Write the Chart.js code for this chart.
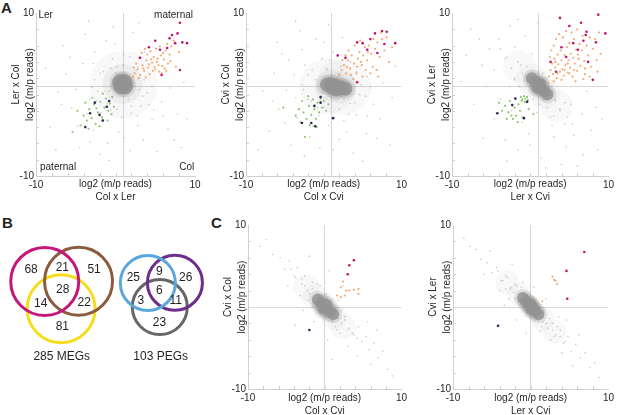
<!DOCTYPE html>
<html>
<head>
<meta charset="utf-8">
<script src="https://cdn.jsdelivr.net/npm/chart.js@4.4.1/dist/chart.umd.min.js"></script>
<style>
html, body { margin: 0; padding: 0; background: #fff; overflow: hidden; width: 617px; height: 415px; }
canvas { position: absolute; }
.tag { position: absolute; font: bold 15px "Liberation Sans", Arial, sans-serif; color: #231f20; line-height: 15px; }
</style>
</head>
<body>
<div class="tag" style="left:1px;top:0px">A</div>
<div class="tag" style="left:2px;top:215px">B</div>
<div class="tag" style="left:211px;top:215px">C</div>
<canvas id="a1" width="205" height="205" style="left:0;top:0"></canvas>
<canvas id="a2" width="205" height="205" style="left:205px;top:0"></canvas>
<canvas id="a3" width="207" height="205" style="left:410px;top:0"></canvas>
<canvas id="venn" width="210" height="210" style="left:0;top:205px"></canvas>
<canvas id="c1" width="205" height="212" style="left:205px;top:205px"></canvas>
<canvas id="c2" width="207" height="212" style="left:410px;top:205px"></canvas>
<script>
// tick labels shown on every axis
const tickLabels = [-10, 10];

// ---- A1: Ler x Col vs Col x Ler ----
const a1Core = [[0.6, 1.5], [1.1, 1.5], [0.7, 1.0], [1.2, 1.0], [0.9, 1.3]];
const a1Halo = [[1.0, 1.2]];
const a1Mid = [[0.9, 1.3]];
const a1Grey = [[-7.5, -6.8], [-6.8, -1.2], [-5.5, -1.7], [-8.2, -4.0], [-4.5, -6.5], [-3.2, -5.8], [-2.0, -7.3], [-0.8, -8.1],
  [1.8, -6.9], [3.5, -5.6], [5.2, -7.0], [6.6, -4.2], [7.8, -2.4], [8.3, -6.5], [4.6, -3.1], [2.8, -3.8], [0.4, -4.6],
  [-1.6, -3.0], [-3.6, -2.4], [-5.0, 0.6], [-6.2, 2.5], [-4.1, 3.8], [-2.6, 5.2], [-1.2, 6.6], [-3.8, 7.4], [-6.6, 6.0],
  [-0.3, 8.3], [2.2, 7.6], [1.0, 4.9], [-1.9, 2.6], [-3.0, 0.9], [4.0, 0.2], [5.8, -0.9], [6.9, 0.8], [8.6, 1.5],
  [3.2, -1.4], [2.0, -2.3], [-0.6, -1.9], [-2.4, -0.8], [0.2, 3.4], [2.6, 3.0], [-4.8, -3.9], [1.1, -5.3], [6.0, -2.6],
  [-7.2, 0.3], [-5.7, 4.6], [0.0, 6.2], [3.7, 5.2], [7.4, -5.6], [-2.8, -4.4], [4.8, -1.9], [-8.8, 3.2], [-1.0, -6.0],
  [9.0, -3.0], [-3.4, 9.0], [2.9, 8.8]];
const a1Near = [[-1.5, 2.8], [-2.2, 0.4], [-1.0, -1.0], [0.2, -1.8], [2.0, -1.4], [3.4, -0.2], [3.6, 1.8], [2.8, 3.4],
  [1.0, 3.6], [-0.6, 3.2], [-2.6, 1.8], [-1.8, -2.2], [0.8, -2.8], [2.8, -2.6], [4.2, -1.2], [4.6, 1.0], [-3.2, -0.6],
  [-0.4, 4.4], [1.8, 4.6], [-2.8, 3.8], [3.0, 0.6], [-0.8, 0.4], [1.6, -0.6], [0.0, 2.6]];
const a1Meg = [[2.4, 2.6], [2.8, 3.1], [3.1, 2.4], [3.4, 3.6], [3.6, 2.9], [3.9, 4.2], [4.1, 3.3], [4.3, 2.5], [4.6, 3.9],
  [4.8, 4.6], [5.0, 3.1], [5.2, 4.0], [5.5, 2.8], [5.7, 4.8], [5.9, 3.5], [6.1, 4.3], [6.3, 5.4], [6.6, 3.8], [6.8, 4.9],
  [7.0, 5.9], [2.6, 3.8], [3.0, 4.5], [3.3, 5.1], [3.7, 5.6], [4.0, 4.9], [4.4, 5.3], [4.7, 2.9], [5.1, 5.6], [5.4, 3.6],
  [5.8, 2.6], [6.0, 5.1], [6.4, 2.9], [2.2, 2.2], [2.9, 2.0], [3.5, 3.2], [4.2, 3.7], [4.9, 3.4], [5.3, 4.4], [6.2, 3.2],
  [6.9, 4.1], [7.3, 6.6], [7.6, 3.4], [3.8, 2.1], [4.5, 4.3], [5.6, 5.9], [6.5, 6.2], [8.0, 5.2], [2.3, 3.3]];
const a1MegStrong = [[8.1, 8.8], [7.1, 7.3], [7.5, 6.3], [8.4, 6.4], [9.0, 6.3], [5.6, 5.5], [6.5, 5.7], [8.1, 3.0],
  [5.8, 2.4], [3.1, 4.5], [6.8, 6.9], [7.8, 7.5], [4.2, 5.8], [5.0, 6.6]];
const a1Peg = [[-4.4, -3.8], [-4.0, -2.6], [-3.6, -3.2], [-3.3, -1.8], [-3.0, -2.9], [-2.7, -1.2], [-2.5, -3.6], [-2.2, -2.2],
  [-1.9, -0.9], [-1.7, -2.8], [-1.4, -1.6], [-1.2, -0.5], [-0.9, -2.0], [-0.7, -1.1], [-0.4, -0.3], [-3.8, -1.0],
  [-2.9, -0.4], [-2.0, -3.9], [-1.0, -3.2], [-0.5, -2.4], [-4.8, -2.0], [-3.4, -4.2], [-1.6, 0.1], [-2.4, -1.7],
  [-0.2, -1.5], [-5.4, -4.6]];
const a1PegStrong = [[-3.2, -2.3], [-3.8, -4.0], [-2.0, -2.5], [-1.1, -1.5], [-1.6, -3.2], [-2.6, -1.0], [-0.8, -0.8]];

// ---- A2: Cvi x Col vs Col x Cvi ----
const a2Core = [[0.4, 1.2], [0.9, 1.3], [1.4, 1.1], [1.9, 1.0], [2.4, 0.8], [2.8, 0.7], [1.6, 0.6], [1.1, 0.8]];
const a2Halo = [[0.5, 1.0], [2.5, 0.9]];
const a2Mid = [[1.0, 1.1], [2.2, 0.9]];
const a2Grey = [[-7.0, -4.5], [-5.8, -1.8], [-4.2, -6.2], [-2.5, -7.5], [-0.5, -6.6], [2.0, -5.5], [3.8, -7.2], [5.5, -4.8],
  [7.2, -3.0], [8.5, -6.2], [6.4, -1.2], [4.2, -2.5], [2.6, -3.2], [0.6, -3.8], [-1.4, -3.9], [-3.4, -2.9], [-4.8, 0.5],
  [-6.4, 2.6], [-4.5, 4.2], [-2.8, 5.5], [-1.0, 6.8], [-3.0, 7.8], [-6.0, 6.4], [0.6, 8.6], [2.4, 7.0], [1.2, 5.2],
  [-1.5, 3.0], [-2.8, 1.2], [4.6, 0.0], [6.0, 0.8], [7.6, 1.4], [8.8, -0.4], [3.4, -1.1], [-0.8, -1.6], [-2.0, -0.6],
  [0.4, 3.2], [-5.0, -3.5], [1.2, -6.8], [6.8, -5.4], [-7.8, 0.4], [-5.4, 5.0], [0.0, 6.4], [-3.6, 9.0], [-8.4, -6.8],
  [5.0, -8.2], [9.2, 3.5], [-1.8, -5.2], [3.0, -4.6], [-6.6, -0.8], [-3.8, 2.4], [-0.2, 4.4], [5.6, -2.6]];
const a2Near = [[-2.0, 2.4], [-2.6, 0.6], [-1.6, -0.8], [0.0, -1.6], [2.0, -1.8], [4.0, -1.0], [4.8, 1.2], [4.2, 2.8],
  [2.2, 3.4], [0.4, 3.0], [-1.0, 1.8], [-3.6, -0.4], [-0.6, -2.6], [1.4, -2.8], [3.2, -2.4], [5.4, -0.2], [5.6, 2.2],
  [-2.4, 3.6], [0.8, 4.2], [3.4, 4.0], [-0.2, 0.2], [3.6, 0.4], [2.6, -0.6], [1.0, 2.4]];
const a2Meg = [[2.0, 2.4], [2.3, 3.0], [2.6, 3.6], [2.9, 2.6], [3.1, 4.2], [3.4, 3.2], [3.6, 4.8], [3.9, 3.8], [4.2, 2.6],
  [4.4, 4.4], [4.6, 5.2], [4.9, 3.6], [5.1, 4.8], [5.3, 5.8], [5.6, 4.2], [5.8, 6.0], [6.1, 5.0], [6.3, 3.4], [6.6, 5.6],
  [6.9, 6.4], [7.2, 4.6], [7.5, 6.8], [7.8, 5.4], [8.1, 7.0], [2.4, 4.2], [2.8, 4.8], [3.2, 5.4], [3.5, 2.4], [4.0, 6.0],
  [4.7, 6.6], [5.4, 3.0], [6.0, 2.6], [6.8, 3.0], [7.0, 2.2], [5.0, 2.2], [3.8, 1.9], [2.1, 1.8], [4.3, 3.4], [5.7, 5.2],
  [6.4, 6.8], [7.4, 7.6], [8.4, 4.0], [8.8, 5.8], [3.0, 3.4], [4.8, 4.0]];
const a2MegStrong = [[7.5, 7.8], [6.6, 7.5], [8.1, 7.7], [4.3, 6.4], [5.0, 6.3], [9.2, 6.3], [5.6, 5.5], [6.9, 5.1],
  [2.8, 4.5], [1.8, 4.8], [4.3, 1.5], [6.0, 6.8], [7.8, 6.2]];
const a2Peg = [[-3.0, -3.4], [-2.6, -2.2], [-2.2, -3.0], [-1.9, -1.4], [-1.6, -2.5], [-1.4, -0.6], [-1.2, -1.8], [-1.0, -3.0],
  [-0.8, -1.0], [-0.6, -2.2], [-0.4, -0.5], [-0.2, -1.6], [0.0, -0.8], [0.3, -2.0], [0.6, -1.2], [-2.8, -0.8],
  [-2.0, -0.2], [-3.2, -1.8], [-1.8, -3.8], [-0.9, -4.0], [-5.2, -1.6], [-2.4, -5.2], [-3.6, -2.6]];
const a2PegStrong = [[-0.4, -0.3], [-0.4, -1.0], [-1.6, -3.5], [-1.1, -3.9], [1.2, -2.9], [-2.8, -3.5], [-1.2, -1.4]];

// ---- A3: Cvi x Ler vs Ler x Cvi ----
const a3Core = [[0.2, 2.0], [0.6, 1.6], [1.0, 1.2], [1.4, 0.8], [1.8, 0.4], [2.2, 0.0], [0.9, 0.8], [1.3, 1.3]];
const a3Halo = [[-1.4, 3.4], [0.2, 1.8], [1.8, 0.2], [3.4, -1.4]];
const a3Mid = [[0.6, 1.6], [1.6, 0.6]];
const a3Grey = [[-6.5, 6.8], [-5.2, 5.6], [-4.0, 6.8], [-3.2, 4.4], [-2.0, 5.8], [-4.6, 3.0], [-6.2, 3.6], [-7.6, 8.0],
  [-2.6, 8.4], [-0.6, 7.2], [1.0, 8.8], [-1.2, 3.6], [0.2, 5.0], [-5.6, 1.0], [-7.2, -1.2], [-4.6, -3.0], [-3.2, -5.6],
  [-1.6, -6.8], [-0.2, -4.8], [1.4, -7.8], [3.0, -5.2], [4.4, -3.6], [5.6, -5.0], [6.6, -2.4], [7.8, -4.4], [8.6, -6.8],
  [5.2, -1.2], [3.8, -1.8], [2.6, -2.8], [6.8, -7.4], [4.6, -6.4], [8.4, -1.6], [9.2, -3.0], [7.2, 0.4], [-2.4, -2.0],
  [-3.8, -0.6], [-1.0, -3.4], [0.8, -2.2], [-2.0, 1.8], [-0.6, 2.2], [3.2, -0.6], [-8.2, 4.8], [-6.0, -5.4], [2.0, -9.0],
  [-3.0, -8.2], [4.0, -8.6], [-8.8, 1.6], [0.0, -6.2], [6.0, -8.8], [-1.6, 9.2]];
const a3Near = [[-3.0, 4.6], [-2.4, 3.2], [-1.6, 4.0], [-1.0, 2.6], [-0.4, 3.4], [-2.0, 2.0], [0.0, 1.0], [2.0, 1.6],
  [2.6, 0.4], [3.2, -0.8], [3.8, -2.0], [4.4, -1.0], [4.8, -2.8], [2.2, -1.6], [1.2, -1.2], [3.0, -2.6], [-1.4, 1.0],
  [0.4, -0.6], [1.6, 2.6], [-0.2, 2.0], [5.4, -3.6], [-3.8, 5.6], [2.8, -3.8], [-2.6, 1.0]];
const a3Meg = [[2.4, 2.2], [2.6, 3.0], [2.8, 3.8], [2.9, 2.5], [3.1, 4.4], [3.2, 3.3], [3.4, 2.0], [3.5, 4.9], [3.6, 3.7],
  [3.8, 2.8], [3.9, 5.4], [4.0, 4.2], [4.1, 3.1], [4.3, 2.3], [4.4, 4.8], [4.5, 3.6], [4.7, 5.8], [4.8, 2.7], [4.9, 4.2],
  [5.0, 6.3], [5.1, 3.3], [5.2, 5.0], [5.4, 2.2], [5.5, 4.5], [5.6, 6.8], [5.7, 3.8], [5.9, 5.5], [6.0, 2.9], [6.1, 4.9],
  [6.3, 6.2], [6.4, 3.5], [6.6, 5.4], [6.7, 7.2], [6.9, 4.1], [7.0, 2.5], [7.2, 6.0], [7.4, 4.8], [7.6, 7.0], [7.8, 3.4],
  [8.0, 5.6], [8.3, 6.8], [8.5, 4.2], [8.8, 7.6], [9.0, 5.0], [3.0, 6.0], [3.3, 6.8], [3.7, 7.4], [4.2, 7.0], [4.6, 7.8],
  [5.3, 7.6], [6.0, 8.0], [2.5, 4.6], [2.7, 5.4], [3.0, 1.6], [4.0, 1.8], [5.8, 1.6], [6.8, 1.9], [7.6, 2.2], [8.6, 2.8],
  [2.3, 1.4], [3.5, 2.6], [4.4, 3.0], [5.0, 2.6], [5.6, 3.0], [3.2, 4.0], [4.8, 3.8], [6.2, 4.4], [7.0, 3.2]];
const a3MegStrong = [[3.8, 9.4], [8.7, 9.8], [6.5, 8.8], [7.2, 7.7], [7.1, 7.3], [9.6, 7.5], [4.0, 5.8], [5.5, 6.3],
  [6.1, 5.5], [8.4, 6.4], [2.6, 4.0], [3.3, 2.8], [8.0, 1.8], [7.4, 4.0], [5.0, 8.4], [6.8, 6.6], [4.6, 4.6]];
const a3Peg = [[-1.2, -0.3], [-1.0, -0.6], [-0.8, -0.2], [-0.6, -0.5], [-0.4, -0.3], [-0.3, -0.7], [-1.1, -0.8], [-0.7, -0.9],
  [-3.2, -1.4], [-2.8, -2.2], [-2.6, -0.8], [-2.2, -3.0], [-2.0, -1.6], [-1.8, -2.6], [-1.5, -1.2], [-1.3, -2.0],
  [-3.0, -3.0], [-2.4, -2.6], [-1.0, -2.8], [-0.2, -1.8], [0.4, -2.4], [-3.6, -2.0], [-1.6, -3.4], [-4.0, -1.0]];
const a3PegStrong = [[-4.2, -2.3], [-2.3, -1.3], [-0.4, -0.9], [-0.8, -2.9], [-1.9, -0.5]];

// ---- C1: Cvi x Col vs Col x Cvi ----
const c1Core = [[-0.9, 0.9], [-0.5, 0.5], [-0.1, 0.1], [0.3, -0.3], [0.7, -0.6], [1.1, -0.9], [0.2, 0.3], [-0.2, -0.2]];
const c1Halo = [[-2.4, 2.4], [-1.2, 1.2], [0.0, 0.0], [1.2, -1.2], [2.4, -2.4]];
const c1Mid = [[-0.3, 0.3], [0.6, -0.5]];
const c1Grey = [[-6.8, 6.4], [-5.8, 6.0], [-5.2, 4.6], [-4.6, 5.6], [-4.0, 3.8], [-3.6, 4.8], [-3.0, 2.8], [-2.6, 3.8],
  [-2.2, 2.0], [-1.6, 3.0], [-4.8, 2.6], [-3.2, 1.4], [-1.0, 1.6], [-7.6, 8.2], [-2.0, 6.2], [0.6, 4.4], [2.6, -1.6],
  [3.2, -2.6], [3.8, -3.4], [4.4, -2.4], [4.8, -4.2], [5.4, -3.6], [5.8, -5.2], [6.4, -4.4], [7.0, -6.2], [7.6, -5.4],
  [8.2, -7.6], [2.0, -3.2], [1.4, -2.4], [3.0, -4.8], [4.2, -6.0], [5.6, -1.8], [-1.4, -1.8], [-2.8, -0.4], [0.4, -4.0],
  [1.8, 0.8], [-0.6, 2.6], [6.0, -7.0], [8.8, -8.4], [-8.4, 7.4], [2.4, 2.6], [-3.8, -2.2], [1.0, -6.4], [6.8, -2.8]];
const c1Near = [[-3.8, 3.6], [-3.0, 3.4], [-2.6, 2.6], [-2.0, 1.6], [-1.6, 2.2], [-1.2, 0.8], [-2.2, 0.8], [-0.6, 1.4],
  [0.8, 0.6], [1.4, -0.2], [1.8, -1.4], [2.2, -2.0], [2.6, -1.2], [3.0, -2.8], [3.6, -3.2], [1.0, -1.8], [-0.4, -0.8],
  [0.4, -1.2], [2.2, -0.4], [-1.0, 2.8], [4.2, -3.8], [-4.4, 4.6], [0.2, 1.6], [1.6, -2.8]];
const c1Meg = [[2.8, 2.0], [3.2, 2.0], [3.8, 2.1], [4.4, 2.2], [4.4, 1.6], [2.4, 3.1], [2.6, 1.4], [1.6, 1.4], [2.1, 1.2], [2.1, 2.4]];
const c1MegStrong = [[3.0, 4.0], [3.8, 5.7], [3.2, 5.1]];
const c1Peg = [];
const c1PegStrong = [[-2.0, -2.8]];

// ---- C2: Cvi x Ler vs Ler x Cvi ----
const c2Core = [[-1.0, 1.1], [-0.6, 0.7], [-0.2, 0.3], [0.2, -0.1], [0.6, -0.5], [1.0, -0.9], [0.0, 0.3], [0.1, -0.3]];
const c2Halo = [[-3.0, 3.0], [-1.5, 1.5], [0.0, 0.0], [1.5, -1.5], [3.0, -3.0]];
const c2Mid = [[-0.4, 0.4], [0.6, -0.6]];
const c2Grey = [[-8.6, 8.4], [-7.8, 7.4], [-7.0, 7.0], [-6.4, 5.8], [-5.6, 5.4], [-5.0, 4.2], [-4.4, 4.8], [-3.8, 3.2],
  [-3.2, 3.8], [-2.6, 2.2], [-2.0, 2.8], [-1.6, 1.6], [-4.0, 2.0], [-2.8, 1.0], [-6.0, 4.0], [-1.0, 3.0], [1.6, -1.8],
  [2.2, -2.6], [2.8, -2.0], [3.2, -3.4], [3.8, -2.8], [4.2, -4.4], [4.8, -3.6], [5.2, -5.4], [5.8, -4.6], [6.4, -6.2],
  [7.0, -5.6], [7.6, -7.4], [8.2, -6.8], [8.8, -8.6], [2.6, -4.0], [4.0, -5.6], [5.4, -7.2], [1.2, -3.0], [3.6, -1.2],
  [6.2, -3.4], [-1.8, -1.6], [-3.4, 0.2], [0.4, 2.4], [2.0, 1.0], [-5.2, 6.8], [-2.4, 5.2], [4.6, -1.6], [-0.6, -3.2]];
const c2Near = [[-4.2, 4.4], [-3.6, 3.2], [-3.0, 3.6], [-2.6, 2.4], [-2.2, 1.8], [-1.8, 2.6], [-1.4, 1.2], [-0.8, 1.8],
  [-2.0, 1.0], [1.0, -0.4], [1.6, -1.2], [2.0, -2.0], [2.4, -1.4], [2.8, -2.8], [3.4, -2.4], [3.8, -3.6], [4.4, -4.2],
  [0.6, -1.6], [-0.4, -0.8], [1.4, -2.4], [-1.2, 2.4], [0.4, 1.0], [3.0, -3.6], [-3.2, 2.2]];
const c2Meg = [[2.8, 3.7], [3.2, 3.2], [3.4, 2.8], [3.0, 3.3], [1.5, 0.7]];
const c2MegStrong = [[4.7, 1.0], [6.9, 6.7], [4.6, 4.4]];
const c2Peg = [];
const c2PegStrong = [[-4.2, -2.3]];

// ---- B: Venn diagrams (diagram units 0..100) ----
const megCounts = [68, 21, 51, 28, 14, 22, 81];
const megCountPos = [[14.8, 31.0], [29.7, 29.9], [44.8, 31.0], [29.9, 40.5], [19.4, 46.8], [40.1, 46.5], [29.7, 58.0]];
const megCircles = [[21.3, 36.4], [37.4, 36.3], [29.1, 49.4]];
const megColors = ['#c5177a', '#8c5b3d', '#f7dc1a'];
const pegCounts = [25, 9, 26, 6, 3, 11, 23];
const pegCountPos = [[63.5, 34.6], [75.9, 31.7], [88.4, 34.6], [75.9, 40.8], [67.1, 45.7], [83.7, 45.7], [75.9, 56.0]];
const pegCircles = [[70.4, 37.1], [83.3, 37.0], [76.1, 48.6]];
const pegColors = ['#5ba6dc', '#6d2d8b', '#676767'];
const vennTotals = ['285 MEGs', '103 PEGs'];
const vennTotalPos = [[29.4, 72.2], [76.5, 72.2]];

const fam = '"Liberation Sans", Arial, sans-serif';
const ink = '#231f20';

// rotated two-line y-axis title
const yTitle = {
  id: 'yTitle',
  afterDraw(chart, args, opts) {
    if (!opts.lines) return;
    const { ctx, chartArea: a } = chart;
    ctx.save();
    ctx.font = '10px ' + fam;
    ctx.fillStyle = ink;
    ctx.textAlign = 'center';
    ctx.textBaseline = 'middle';
    opts.lines.forEach((t, i) => {
      ctx.save();
      ctx.translate(a.left - 20 + i * 14, (a.top + a.bottom) / 2 - 10);
      ctx.rotate(-Math.PI / 2);
      ctx.fillText(t, 0, 0);
      ctx.restore();
    });
    ctx.restore();
  }
};

// text placed at data coordinates
const labels = {
  id: 'labels',
  afterDatasetsDraw(chart, args, opts) {
    if (!opts.items) return;
    const { ctx, scales: { x, y } } = chart;
    ctx.save();
    ctx.fillStyle = ink;
    ctx.textBaseline = 'middle';
    ctx.font = (opts.size || 10) + 'px ' + fam;
    opts.items.forEach(it => {
      ctx.textAlign = it.align || 'center';
      ctx.fillText(it.text, x.getPixelForValue(it.x), y.getPixelForValue(it.y));
    });
    ctx.restore();
  }
};

// small inward ticks on left and bottom axes
const innerTicks = {
  id: 'innerTicks',
  afterDraw(chart, args, opts) {
    if (!opts.on) return;
    const { ctx, chartArea: a, scales: { x, y } } = chart;
    ctx.save();
    ctx.strokeStyle = '#d2d2d2';
    ctx.lineWidth = 1;
    ctx.beginPath();
    for (let v = -8; v <= 8; v += 2) {
      const px = Math.round(x.getPixelForValue(v)) + 0.5;
      ctx.moveTo(px, a.bottom); ctx.lineTo(px, a.bottom - 3);
      const py = Math.round(y.getPixelForValue(v)) + 0.5;
      ctx.moveTo(a.left, py); ctx.lineTo(a.left + 3, py);
    }
    ctx.stroke();
    ctx.restore();
  }
};

Chart.register(yTitle, labels, innerTicks);

const pts = arr => arr.map(p => ({ x: p[0], y: p[1] }));

function scatterPlot(id, o) {
  const ds = (data, color, r, order) => ({
    data: pts(data), backgroundColor: color, pointRadius: r, pointHoverRadius: r, borderWidth: 0, order: order
  });
  const axisCommon = {
    type: 'linear', min: -10, max: 10,
    ticks: {
      stepSize: 1, autoSkip: false, maxRotation: 0, color: ink, font: { size: 10, family: fam },
      callback: v => tickLabels.includes(v) ? String(v) : ''
    },
    grid: {
      color: c => (c.tick && c.tick.value === o.cross) ? '#d6d6d6' : 'rgba(0,0,0,0)',
      drawTicks: false, lineWidth: 1
    },
    border: { color: '#d0d0d0', width: 1 }
  };
  return new Chart(document.getElementById(id), {
    type: 'scatter',
    data: {
      datasets: [
        ds(o.halo, 'rgba(150,150,150,0.07)', o.haloR, 9),
        ds(o.mid, 'rgba(150,150,150,0.1)', o.midR, 8),
        ds(o.core, 'rgba(155,155,155,0.25)', o.coreR + 3, 7),
        ds(o.core, 'rgba(146,146,146,0.8)', o.coreR, 6),
        ds(o.grey, 'rgba(165,165,165,0.6)', 0.8, 5),
        ds(o.meg, 'rgba(242,155,90,0.85)', 1.1, 4),
        ds(o.peg, 'rgba(120,190,90,0.85)', 1.1, 4),
        ds(o.megStrong, '#c0166e', 1.3, 3),
        ds(o.pegStrong, '#2d2658', 1.3, 3)
      ]
    },
    options: {
      responsive: false,
      animation: false,
      events: [],
      layout: { autoPadding: false, padding: { top: o.top, right: o.right, left: 0, bottom: 0 } },
      plugins: {
        legend: { display: false },
        tooltip: { enabled: false },
        yTitle: { lines: o.yLines },
        labels: { items: o.labels || [] },
        innerTicks: { on: true }
      },
      scales: {
        x: Object.assign({}, axisCommon, {
          position: 'bottom',
          afterFit: s => { s.height = o.xH; },
          ticks: Object.assign({}, axisCommon.ticks, { padding: 3 }),
          title: {
            display: true, text: ['log2 (m/p reads)', o.xName], color: ink,
            font: { size: 10, family: fam, lineHeight: 1.25 },
            padding: { top: 0, bottom: o.xPad }
          }
        }),
        y: Object.assign({}, axisCommon, {
          position: 'left',
          afterFit: s => { s.width = o.yW; },
          ticks: Object.assign({}, axisCommon.ticks, { padding: 2 })
        })
      }
    }
  });
}

scatterPlot('a1', {
  core: a1Core, halo: a1Halo, mid: a1Mid, grey: a1Grey.concat(a1Near), meg: a1Meg, megStrong: a1MegStrong,
  peg: a1Peg, pegStrong: a1PegStrong,
  coreR: 8, haloR: 34, midR: 20, cross: 1, top: 13, right: 10, yW: 36, xH: 29, xPad: 2,
  xName: 'Col x Ler', yLines: ['Ler x Col', 'log2 (m/p reads)'],
  labels: [
    { text: 'Ler', x: -9.7, y: 9.7, align: 'left' },
    { text: 'maternal', x: 9.75, y: 9.7, align: 'right' },
    { text: 'paternal', x: -9.5, y: -8.9, align: 'left' },
    { text: 'Col', x: 9.9, y: -8.9, align: 'right' }
  ]
});
scatterPlot('a2', {
  core: a2Core, halo: a2Halo, mid: a2Mid, grey: a2Grey.concat(a2Near), meg: a2Meg, megStrong: a2MegStrong,
  peg: a2Peg, pegStrong: a2PegStrong,
  coreR: 7, haloR: 28, midR: 16, cross: 1, top: 13, right: 5, yW: 41, xH: 29, xPad: 2,
  xName: 'Col x Cvi', yLines: ['Cvi x Col', 'log2 (m/p reads)']
});
scatterPlot('a3', {
  core: a3Core, halo: a3Halo, mid: a3Mid, grey: a3Grey.concat(a3Near), meg: a3Meg, megStrong: a3MegStrong,
  peg: a3Peg, pegStrong: a3PegStrong,
  coreR: 6, haloR: 16, midR: 12, cross: 1, top: 13, right: 6, yW: 42, xH: 29, xPad: 2,
  xName: 'Ler x Cvi', yLines: ['Cvi x Ler', 'log2 (m/p reads)']
});
scatterPlot('c1', {
  core: c1Core, halo: c1Halo, mid: c1Mid, grey: c1Grey.concat(c1Near), meg: c1Meg, megStrong: c1MegStrong,
  peg: c1Peg, pegStrong: c1PegStrong,
  coreR: 6, haloR: 13, midR: 11, cross: 0, top: 20, right: 5, yW: 43, xH: 28, xPad: 0,
  xName: 'Col x Cvi', yLines: ['Cvi x Col', 'log2 (m/p reads)']
});
scatterPlot('c2', {
  core: c2Core, halo: c2Halo, mid: c2Mid, grey: c2Grey.concat(c2Near), meg: c2Meg, megStrong: c2MegStrong,
  peg: c2Peg, pegStrong: c2PegStrong,
  coreR: 6, haloR: 12, midR: 10, cross: 0, top: 20, right: 7, yW: 43, xH: 28, xPad: 0,
  xName: 'Ler x Cvi', yLines: ['Cvi x Ler', 'log2 (m/p reads)']
});

// Venn diagrams
const circleSets = [
  { centres: megCircles, colors: megColors, r: 34 },
  { centres: pegCircles, colors: pegColors, r: 27.5 }
];
const vennDatasets = [];
circleSets.forEach(set => set.centres.forEach((c, i) => {
  vennDatasets.push({
    data: pts([c]), pointRadius: set.r, pointHoverRadius: set.r,
    borderColor: set.colors[i], borderWidth: 3, backgroundColor: 'rgba(0,0,0,0)'
  });
}));
const vennItems = [];
megCounts.forEach((n, i) => vennItems.push({ text: String(n), x: megCountPos[i][0], y: megCountPos[i][1] }));
pegCounts.forEach((n, i) => vennItems.push({ text: String(n), x: pegCountPos[i][0], y: pegCountPos[i][1] }));
vennTotals.forEach((t, i) => vennItems.push({ text: t, x: vennTotalPos[i][0], y: vennTotalPos[i][1] }));

new Chart(document.getElementById('venn'), {
  type: 'scatter',
  data: { datasets: vennDatasets },
  options: {
    responsive: false,
    animation: false,
    events: [],
    layout: { autoPadding: false, padding: 0 },
    plugins: {
      legend: { display: false },
      tooltip: { enabled: false },
      labels: { items: vennItems, size: 12 }
    },
    scales: {
      x: { type: 'linear', display: false, min: 0, max: 100 },
      y: { type: 'linear', display: false, min: 0, max: 100, reverse: true }
    }
  }
});
</script>
</body>
</html>
